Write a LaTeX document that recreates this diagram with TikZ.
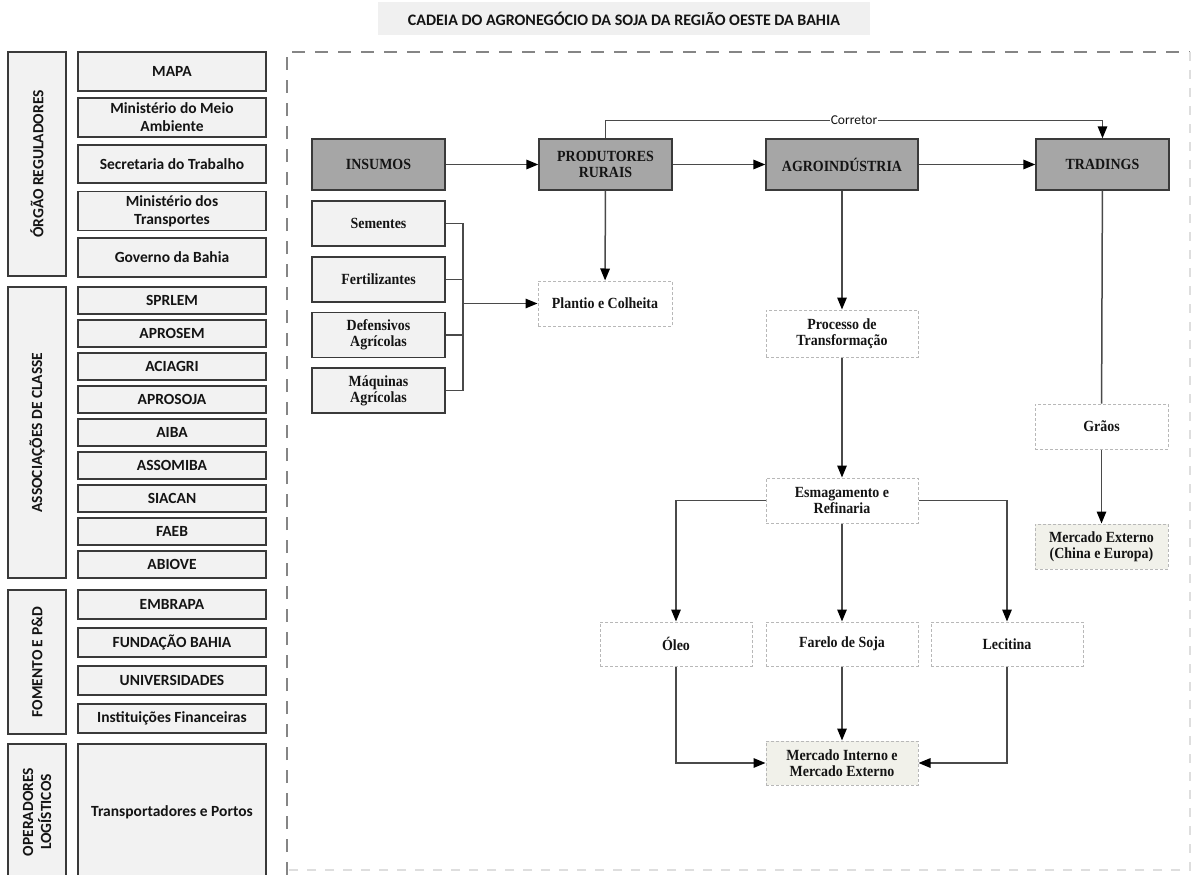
\documentclass[tikz,border=0pt]{standalone}
\usepackage{fontspec}
\setmainfont{Liberation Serif}
\newfontfamily\calib{Carlito}
\newfontfamily\tnr{Liberation Serif}[FakeStretch=0.9]
\usetikzlibrary{arrows.meta}
\definecolor{ink}{HTML}{141414}
\definecolor{edge}{HTML}{3A3A3A}
\definecolor{darkfill}{HTML}{A6A6A6}
\definecolor{lightfill}{HTML}{F2F2F2}
\definecolor{titlefill}{HTML}{F0F0F0}
\definecolor{dotline}{HTML}{B8B8B8}
\definecolor{mktfill}{HTML}{F1F1EA}
\definecolor{wire}{HTML}{4A4A4A}
\definecolor{framegray}{HTML}{858585}
\definecolor{framesoft}{HTML}{DEDEDE}
\tikzset{
  leftfont/.style={font=\calib\bfseries\fontsize{15.5}{18}\selectfont},
  diagfont/.style={font=\tnr\bfseries\fontsize{15.5}{16}\selectfont},
  titlebox/.style={fill=titlefill,minimum width=492pt,minimum height=33pt,inner sep=0pt,text=ink,
    font=\calib\bfseries\fontsize{16}{17}\selectfont},
  grpbox/.style={draw=edge,fill=lightfill,line width=1.4pt,rotate=90,minimum height=58pt,inner sep=0pt,
    align=center,text=ink,leftfont},
  orgitem/.style={draw=edge,fill=lightfill,line width=1.4pt,minimum width=188pt,inner sep=0pt,
    align=center,text=ink,leftfont},
  mainbox/.style={draw=edge,fill=darkfill,line width=1.4pt,minimum width=133pt,minimum height=51pt,
    inner sep=0pt,align=center,text=ink,diagfont},
  inbox/.style={draw=edge,fill=lightfill,line width=1.4pt,minimum width=133pt,minimum height=45pt,
    inner sep=0pt,align=center,text=ink,diagfont},
  stagebox/.style={draw=dotline,densely dashed,line width=1pt,fill=white,minimum width=152pt,
    minimum height=45pt,inner sep=0pt,align=center,text=ink,diagfont},
  mktbox/.style={stagebox,fill=mktfill},
  arrow/.style={-{Triangle[length=12pt,width=9.5pt,color=black]},line width=1.5pt,draw=wire},
  link/.style={line width=1.5pt,draw=wire},
  frame/.style={draw=framegray,line width=1.6pt,dash pattern=on 13pt off 10pt},
  framefaint/.style={draw=framesoft,line width=1.2pt,dash pattern=on 9pt off 9pt}
}

\begin{document}
\begin{tikzpicture}[x=1pt,y=-1pt]
  \clip (0,0) rectangle (1192,875);
  \fill[white] (0,0) rectangle (1192,875);

  % titulo
  \node[titlebox] (titulo) at (624,19) {CADEIA DO AGRONEGÓCIO DA SOJA DA REGIÃO OESTE DA BAHIA};

  % coluna da esquerda
  \node[grpbox,minimum width=224pt] (orgao) at (37,164) {ÓRGÃO REGULADORES};
  \node[orgitem,minimum height=39pt] (mapa) at (172,71.5) {MAPA};
  \node[orgitem,minimum height=39pt] (meio) at (172,117.5) {Ministério do Meio\\Ambiente};
  \node[orgitem,minimum height=38pt] (trabalho) at (172,164) {Secretaria do Trabalho};
  \node[orgitem,minimum height=39pt] (transp) at (172,211) {Ministério dos\\Transportes};
  \node[orgitem,minimum height=39pt] (governo) at (172,257.5) {Governo da Bahia};

  \node[grpbox,minimum width=291pt] (assoc) at (37,432.5) {ASSOCIAÇÕES DE CLASSE};
  \foreach \nm/\txt [count=\i from 0] in {sprlem/SPRLEM,aprosem/APROSEM,aciagri/ACIAGRI,
      aprosoja/APROSOJA,aiba/AIBA,assomiba/ASSOMIBA,siacan/SIACAN,faeb/FAEB,abiove/ABIOVE}
    \node[orgitem,minimum height=27pt] (\nm) at (172,300.5+33*\i) {\txt};

  \node[grpbox,minimum width=144pt] (fomento) at (37,662) {FOMENTO E P\&D};
  \foreach \nm/\txt [count=\i from 0] in {embrapa/EMBRAPA,fundacao/FUNDAÇÃO BAHIA,
      univ/UNIVERSIDADES,financ/Instituições Financeiras}
    \node[orgitem,minimum height=29pt] (\nm) at (172,604.5+38*\i) {\txt};

  \node[grpbox,minimum width=136pt] (operad) at (37,812) {OPERADORES\\LOGÍSTICOS};
  \node[orgitem,minimum height=136pt] (portos) at (172,812) {Transportadores e Portos};

  % moldura
  \draw[frame] (287,875) -- (287,52) -- (1190,52);
  \draw[framefaint] (1190,52) -- (1190,870) -- (287,870);

  % cadeia principal
  \node[mainbox] (insumos) at (378.5,164.5) {INSUMOS};
  \node[mainbox] (produtores) at (605.5,164.5) {PRODUTORES\\RURAIS};
  \node[mainbox,minimum width=152pt] (agro) at (842,164.5) {AGROINDÚSTRIA};
  \node[mainbox] (tradings) at (1102.5,164.5) {TRADINGS};

  \node[inbox] (sementes) at (378.5,223.5) {Sementes};
  \node[inbox] (fertil) at (378.5,279.5) {Fertilizantes};
  \node[inbox] (defens) at (378.5,335) {Defensivos\\Agrícolas};
  \node[inbox] (maquinas) at (378.5,390.5) {Máquinas\\Agrícolas};
  \coordinate (junta) at (463,303.5);

  \node[stagebox,minimum width=134pt] (plantio) at (605,303.5) {Plantio e Colheita};
  \node[stagebox,minimum height=47pt] (processo) at (842,333.5) {Processo de\\Transformação};
  \node[stagebox] (esmag) at (842,500.5) {Esmagamento e\\Refinaria};
  \node[stagebox,minimum height=44pt] (oleo) at (676,644) {Óleo};
  \node[stagebox,minimum height=44pt] (farelo) at (842,644) {Farelo de Soja};
  \node[stagebox,minimum height=44pt] (lecitina) at (1007,644) {Lecitina};
  \node[mktbox,minimum height=44pt] (mercint) at (842,763) {Mercado Interno e\\Mercado Externo};
  \node[stagebox,minimum width=133pt] (graos) at (1101.5,426.5) {Grãos};
  \node[mktbox,minimum width=133pt] (mercext) at (1101.5,546.5) {Mercado Externo\\(China e Europa)};

  % ligacoes
  \draw[arrow] (insumos) -- (produtores);
  \draw[arrow] (produtores) -- (agro);
  \draw[arrow] (agro) -- (tradings);
  \draw[arrow] (produtores.north) -- ++(0,-18) -| node[pos=0.25,fill=white,inner sep=1pt,text=ink,
    font=\calib\fontsize{13.5}{14}\selectfont] (corretor) {Corretor} (tradings.north);
  \draw[arrow] (produtores) -- (plantio);
  \draw[link] (sementes.east) -| (junta);
  \draw[link] (fertil.east) -| (junta);
  \draw[link] (defens.east) -| (junta);
  \draw[link] (maquinas.east) -| (junta);
  \draw[arrow] (junta) -- (plantio.west);
  \draw[arrow] (agro) -- (processo);
  \draw[arrow] (processo) -- (esmag);
  \draw[arrow] (esmag.west) -| (oleo.north);
  \draw[arrow] (esmag) -- (farelo);
  \draw[arrow] (esmag.east) -| (lecitina.north);
  \draw[arrow] (oleo.south) |- (mercint.west);
  \draw[arrow] (farelo) -- (mercint);
  \draw[arrow] (lecitina.south) |- (mercint.east);
  \draw[link] (tradings) -- (graos);
  \draw[arrow] (graos) -- (mercext);
\end{tikzpicture}
\end{document}
